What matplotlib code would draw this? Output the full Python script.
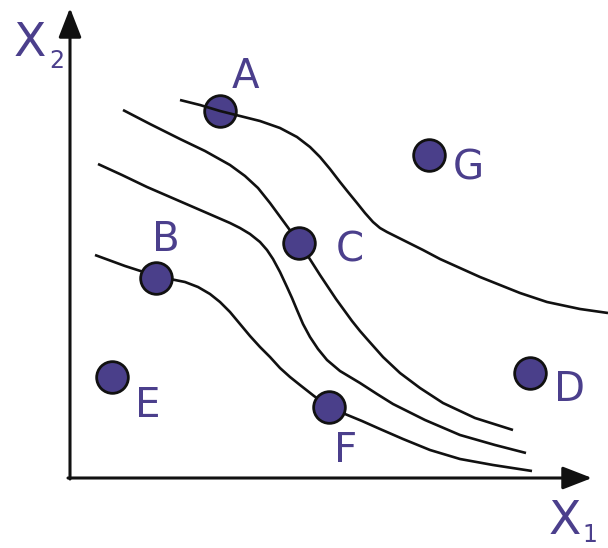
"""
Sketch: decision boundaries in (X1, X2) with labelled points A..G
Saves out.png
"""
import matplotlib
matplotlib.use("Agg")
import matplotlib.pyplot as plt

C_LABEL = "#4b3f8c"   # purple text
C_POINT = "#4a3f8a"   # point fill
C_LINE = "#111111"

# ── data (chart coords, origin at axes corner) ──────────────────
labels = ["A", "B", "C", "D", "E", "F", "G"]
pt_x = [150, 86, 229, 460, 42, 259, 359]
pt_y = [367, 200, 235, 105, 101, 71, 323]
# label offsets from each point
lab_dx = [25, 10, 51, 40, 36, 17, 39]
lab_dy = [34, 38, -8, -17, -29, -44, -13]

c1_x = [110, 130, 150, 170, 190, 210, 227, 240, 250, 260, 270, 278, 287, 295, 303, 310,
        317, 327, 337, 353, 370, 390, 410, 430, 450, 477, 510, 538]
c1_y = [378, 373, 367, 362, 357, 350, 341, 331, 321, 309, 296, 286, 275, 265, 256, 250,
        246, 241, 236, 228, 219, 210, 201, 193, 185, 176, 169, 165]

c2_x = [53, 80, 110, 135, 160, 175, 188, 200, 211, 222, 229, 236, 243, 250, 258, 266,
        274, 282, 290, 297, 313, 330, 350, 373, 405, 443]
c2_y = [368, 354, 339, 327, 313, 302, 290, 275, 260, 245, 235, 225, 214, 203, 191, 179,
        168, 157, 147, 139, 121, 105, 90, 75, 60, 48]

c3_x = [28, 52, 77, 107, 137, 160, 170, 180, 190, 197, 203, 210, 217, 222, 227, 233, 240,
        248, 257, 270, 290, 307, 323, 355, 390, 425, 456]
c3_y = [314, 303, 291, 278, 265, 255, 250, 244, 236, 228, 219, 206, 191, 180, 168, 154, 141,
        129, 118, 107, 95, 84, 74, 58, 43, 33, 25]

c4_x = [25, 55, 86, 100, 115, 128, 140, 150, 160, 170, 180, 190, 200, 210, 220, 230, 244,
        259, 275, 292, 310, 333, 360, 390, 423, 462]
c4_y = [223, 212, 202, 199, 196, 191, 184, 176, 166, 154, 142, 131, 121, 110, 101, 93, 82,
        71, 64, 57, 49, 39, 28, 19, 13, 7]

# ── figure ──────────────────────────────────────────────────────
fig = plt.figure(figsize=(6.08, 5.48), dpi=100)
ax = fig.add_axes([0, 0, 1, 1])
ax.set_xlim(-70, 538)
ax.set_ylim(-70, 478)
ax.axis("off")

# axes with arrow heads
ax.annotate("", xy=(522, 0), xytext=(-2, 0),
            arrowprops=dict(arrowstyle="-|>,head_length=0.9,head_width=0.35",
                            color=C_LINE, lw=2.2, shrinkA=0, shrinkB=0,
                            mutation_scale=20))
ax.annotate("", xy=(0, 470), xytext=(0, -1),
            arrowprops=dict(arrowstyle="-|>,head_length=0.9,head_width=0.35",
                            color=C_LINE, lw=2.2, shrinkA=0, shrinkB=0,
                            mutation_scale=20))

# curves
for cx, cy, z in [(c2_x, c2_y, 2), (c3_x, c3_y, 2), (c4_x, c4_y, 2), (c1_x, c1_y, 5)]:
    ax.plot(cx, cy, color=C_LINE, lw=1.9, zorder=z, solid_capstyle="butt",
            solid_joinstyle="round")

# points
ax.scatter(pt_x, pt_y, s=520, color=C_POINT, edgecolor=C_LINE, linewidth=2.0, zorder=4)

# point labels
for lab, x, y, dx, dy in zip(labels, pt_x, pt_y, lab_dx, lab_dy):
    ax.text(x + dx, y + dy, lab, fontsize=29, color=C_LABEL,
            ha="center", va="center")

# axis labels
ax.text(-40, 435, "X", fontsize=34, color=C_LABEL, ha="center", va="center")
ax.text(-13, 417, "2", fontsize=17, color=C_LABEL, ha="center", va="center")
ax.text(495, -43, "X", fontsize=34, color=C_LABEL, ha="center", va="center")
ax.text(520, -57, "1", fontsize=17, color=C_LABEL, ha="center", va="center")

fig.savefig("out.png", dpi=100, facecolor="white")
